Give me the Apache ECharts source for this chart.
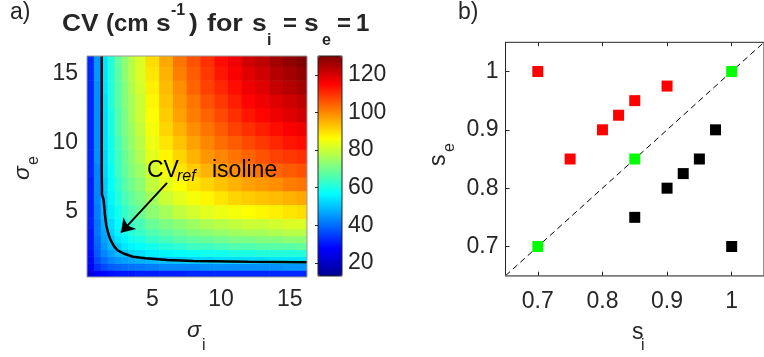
<!DOCTYPE html>
<html><head><meta charset="utf-8">
<script src="https://cdn.jsdelivr.net/npm/echarts@6/dist/echarts.min.js"></script>
<style>html,body{margin:0;padding:0;background:#fff}#c{width:764px;height:357px}</style>
</head><body><div id="c"></div>
<script>
// ---- Panel a: CV heat map (rows = sigma_e, columns = sigma_i) ----
const sigma = [0.5,1,1.5,2,2.5,3,3.5,4,5,6,7,8,9,10,11,12,13,14,15,16];
const cvRows = [
 [23,27,28,29,30,30,30,31,31,31,31,32,32,32,32,32,32,32,32,32],
 [27,33,36,38,39,40,41,41,42,43,43,43,44,44,44,44,44,44,45,45],
 [28,36,40,43,45,46,47,48,49,50,51,52,52,53,53,53,53,54,54,54],
 [29,38,43,46,49,50,52,53,55,56,57,58,59,59,60,60,61,61,61,61],
 [30,39,45,49,51,54,56,57,59,61,62,64,64,65,66,66,67,67,67,68],
 [30,40,46,50,54,56,59,60,63,65,67,68,69,70,71,71,72,72,73,73],
 [30,41,47,52,56,59,61,63,66,68,70,72,73,74,75,76,76,77,78,78],
 [31,41,48,53,57,60,63,65,69,71,73,75,77,78,79,80,80,81,82,82],
 [31,42,49,55,59,63,66,69,73,76,79,81,83,84,85,86,87,88,89,90],
 [31,43,50,56,61,65,68,71,76,80,83,85,87,89,91,92,93,94,95,96],
 [31,43,51,57,62,67,70,73,79,83,86,89,91,93,95,97,98,99,101,102],
 [32,43,52,58,64,68,72,75,81,85,89,92,95,97,99,101,102,104,105,106],
 [32,44,52,59,64,69,73,77,83,87,91,95,98,100,102,104,106,108,109,110],
 [32,44,53,59,65,70,74,78,84,89,93,97,100,103,105,107,109,111,113,114],
 [32,44,53,60,66,71,75,79,85,91,95,99,102,105,108,110,112,114,116,117],
 [32,44,53,60,66,71,76,80,86,92,97,101,104,107,110,113,115,117,119,121],
 [32,44,53,61,67,72,76,80,87,93,98,102,106,109,112,115,117,119,121,123],
 [32,44,54,61,67,72,77,81,88,94,99,104,108,111,114,117,119,122,124,126],
 [32,45,54,61,67,73,78,82,89,95,101,105,109,113,116,119,121,124,126,128],
 [32,45,54,61,68,73,78,82,90,96,102,106,110,114,117,121,123,126,128,130]
];
const cvRange = [13, 130];
const cbTicks = [20,40,60,80,100,120];
const sigRange = [0.25, 16.25];
const sigTicks = [5,10,15];
// CV_ref isoline
const isoSi = [1.32,1.32,1.34,1.45,1.55,1.65,1.8,1.95,2.2,2.45,2.9,3.6,4.5,6.1,8,12,16.25];
const isoSe = [16.25,8,6.2,5.9,4.8,4.0,3.4,2.95,2.5,2.2,1.95,1.72,1.6,1.48,1.4,1.35,1.32];
const arrowFrom = [6.07,7.06];
const arrowTo = [2.72,3.46];

// ---- Panel b: s_i vs s_e ----
const redSi = [0.7,0.75,0.8,0.825,0.85,0.9];
const redSe = [1,0.85,0.9,0.925,0.95,0.975];
const greenSi = [0.7,0.85,1];
const greenSe = [0.7,0.85,1];
const blackSi = [0.85,0.9,0.925,0.95,0.975,1];
const blackSe = [0.75,0.8,0.825,0.85,0.9,0.7];
const sRange = [0.65,1.05];
const sTicks = [0.7,0.8,0.9,1];

const jet = ['#000090','#0000ff','#0080ff','#00ffff','#80ff80','#ffff00','#ff8000','#ff0000','#800000'];
const FONT = '"Liberation Sans", Arial, Helvetica, sans-serif';
const TC = '#262626';

function edges(arr, k){
  const n = arr.length;
  const lo = k === 0 ? arr[0] - (arr[1]-arr[0])/2 : (arr[k-1]+arr[k])/2;
  const hi = k === n-1 ? arr[n-1] + (arr[n-1]-arr[n-2])/2 : (arr[k]+arr[k+1])/2;
  return [lo, hi];
}
const heat = [];
cvRows.forEach((row, r) => row.forEach((v, c) => {
  const ex = edges(sigma, c), ey = edges(sigma, r);
  heat.push([sigma[c], sigma[r], v, ex[0], ex[1], ey[0], ey[1]]);
}));
const zip = (a, b) => a.map((v, i) => [v, b[i]]);

function txt(x, y, text, size, o){
  o = o || {};
  return {
    type:'text', x:x, y:y, rotation:o.rot || 0, scaleX:o.sx || 1, z:100, silent:true,
    style:{ text:text, x:0, y:-0.3*size, align:'left', verticalAlign:'middle',
      fill:o.color || TC,
      font:(o.italic ? 'italic ' : '') + (o.bold ? 'bold ' : '') + size + 'px ' + FONT }
  };
}
const R = Math.PI/2;
const B = {bold:true, sx:1.1};
const Bs = {bold:true};
const graphics = [
  txt(10, 20, 'a)', 23),
  txt(458, 20, 'b)', 23),
  txt(62, 31.7, 'CV', 24, B),
  txt(106, 31.7, '(cm', 24, Bs),
  txt(156, 31.7, 's', 24, B),
  txt(171, 15, '-1', 16, Bs),
  txt(189, 31.7, ')', 24, B),
  txt(207, 31.7, 'for', 24, {bold:true, sx:1.12}),
  txt(252, 31.7, 's', 24, B),
  txt(267, 45, 'i', 16, Bs),
  txt(283, 31.7, '=', 24, Bs),
  txt(304, 31.7, 's', 24, B),
  txt(322, 45, 'e', 16, Bs),
  txt(337, 31.7, '=', 24, Bs),
  txt(356, 31.7, '1', 24, Bs),
  txt(147, 177.7, 'CV', 23, {color:'#000'}),
  txt(177, 181, 'ref', 16, {italic:true, color:'#000'}),
  txt(212, 177.7, 'isoline', 23, {color:'#000'}),
  txt(187, 338, 'σ', 23, {italic:true}),
  txt(202, 350, 'i', 16),
  txt(30, 180, 'σ', 23, {italic:true, rot:R}),
  txt(38, 165, 'e', 16, {rot:R}),
  txt(446, 166, 's', 23, {rot:R}),
  txt(454, 152, 'e', 16, {rot:R}),
  txt(632, 340, 's', 23),
  txt(641, 350, 'i', 16)
];

const labelStyle = {color:TC, fontSize:23, fontFamily:FONT};

const option = {
  animation:false,
  textStyle:{fontFamily:FONT},
  grid:[
    {left:87, top:56, width:220, height:221, show:true, z:10, backgroundColor:'rgba(0,0,0,0)', borderColor:'#9a9a9a', borderWidth:1},
    {left:318, top:56, width:24, height:220, show:true, z:10, backgroundColor:'rgba(0,0,0,0)', borderColor:TC, borderWidth:1},
    {left:505.5, top:42.3, width:267.5, height:233.4, show:true, z:10, backgroundColor:'rgba(0,0,0,0)', borderColor:TC, borderWidth:1}
  ],
  visualMap:{
    type:'continuous', min:cvRange[0], max:cvRange[1], dimension:2, seriesIndex:0,
    inRange:{color:jet}, orient:'vertical', left:318, top:56, itemWidth:24, itemHeight:220,
    padding:0, calculable:false, hoverLink:false, z:4
  },
  xAxis:[
    {gridIndex:0, type:'value', min:sigRange[0], max:sigRange[1], axisLine:{show:false}, axisTick:{show:false}, splitLine:{show:false},
      axisLabel:Object.assign({customValues:sigTicks, margin:11}, labelStyle)},
    {gridIndex:1, type:'value', min:0, max:1, show:false},
    {gridIndex:2, type:'value', min:sRange[0], max:sRange[1], z:12,
      axisLine:{show:true, lineStyle:{color:'#8c8c8c', width:1.5}},
      axisTick:{show:true, inside:true, length:4, customValues:sTicks, lineStyle:{color:TC}},
      splitLine:{show:false},
      axisLabel:Object.assign({customValues:sTicks, margin:14}, labelStyle)},
    {gridIndex:2, type:'value', position:'top', min:sRange[0], max:sRange[1], z:12,
      axisLine:{show:false}, axisTick:{show:true, inside:true, length:4, customValues:sTicks, lineStyle:{color:TC}},
      axisLabel:{show:false}, splitLine:{show:false}}
  ],
  yAxis:[
    {gridIndex:0, type:'value', min:sigRange[0], max:sigRange[1], axisLine:{show:false}, axisTick:{show:false}, splitLine:{show:false},
      axisLabel:Object.assign({customValues:sigTicks, margin:9}, labelStyle)},
    {gridIndex:1, type:'value', position:'right', min:cvRange[0], max:cvRange[1], z:12,
      axisLine:{show:false}, axisTick:{show:true, inside:true, length:3, customValues:cbTicks, lineStyle:{color:TC}},
      splitLine:{show:false}, axisLabel:Object.assign({customValues:cbTicks, margin:6}, labelStyle)},
    {gridIndex:2, type:'value', min:sRange[0], max:sRange[1], z:12,
      axisLine:{show:true, lineStyle:{color:TC}},
      axisTick:{show:true, inside:true, length:4, customValues:sTicks, lineStyle:{color:TC}},
      splitLine:{show:false}, axisLabel:Object.assign({customValues:sTicks, margin:7}, labelStyle)}
  ],
  series:[
    {type:'custom', xAxisIndex:0, yAxisIndex:0, clip:true, encode:{x:0, y:1}, data:heat, silent:true,
      renderItem:function(params, api){
        const p0 = api.coord([api.value(3), api.value(6)]);
        const p1 = api.coord([api.value(4), api.value(5)]);
        return {type:'rect', shape:{x:p0[0], y:p0[1], width:p1[0]-p0[0]+0.6, height:p1[1]-p0[1]+0.6},
          style:{fill:api.visual('color')}};
      }},
    {type:'line', xAxisIndex:0, yAxisIndex:0, data:zip(isoSi, isoSe), symbol:'none', clip:true, z:5,
      lineStyle:{color:'#000', width:2.5}, silent:true,
      markLine:{silent:true, symbol:['none','arrow'], symbolSize:13, label:{show:false},
        lineStyle:{color:'#000', width:2, type:'solid'},
        data:[[{coord:arrowFrom},{coord:arrowTo}]]}},
    {type:'line', xAxisIndex:2, yAxisIndex:2, data:[[sRange[0],sRange[0]],[sRange[1],sRange[1]]], symbol:'none',
      lineStyle:{color:'#000', width:1, type:[6,4]}, silent:true, z:3},
    {type:'scatter', xAxisIndex:2, yAxisIndex:2, data:zip(redSi, redSe), symbol:'rect', symbolSize:11, itemStyle:{color:'#ff0000', opacity:1}, z:4},
    {type:'scatter', xAxisIndex:2, yAxisIndex:2, data:zip(greenSi, greenSe), symbol:'rect', symbolSize:11, itemStyle:{color:'#00ff00', opacity:1}, z:4},
    {type:'scatter', xAxisIndex:2, yAxisIndex:2, data:zip(blackSi, blackSe), symbol:'rect', symbolSize:11, itemStyle:{color:'#000000', opacity:1}, z:4}
  ],
  graphic:graphics
};
const chart = echarts.init(document.getElementById('c'), null, {renderer:'canvas'});
chart.setOption(option);
</script>
</body></html>
